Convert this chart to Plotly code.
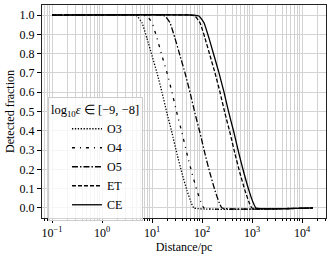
import plotly.graph_objects as go

# Distances (pc) and detected fractions
o3_d = [0.1, 4.0, 5.0, 6.3, 7.9, 10.0, 12.6, 15.8, 20.0, 25.1, 31.6, 39.8, 50.1, 60.3, 69.2, 16600]
o3_f = [1.0, 1.0, 0.995, 0.96, 0.88, 0.79, 0.70, 0.60, 0.49, 0.39, 0.28, 0.18, 0.09, 0.03, 0.0, 0.0]

o4_d = [0.1, 6.3, 7.9, 10.0, 12.6, 15.8, 20.0, 25.1, 31.6, 39.8, 50.1, 63.1, 79.4, 95.5, 109.6, 16600]
o4_f = [1.0, 1.0, 0.995, 0.96, 0.88, 0.79, 0.70, 0.60, 0.49, 0.39, 0.28, 0.18, 0.09, 0.03, 0.0, 0.0]

o5_d = [0.1, 14.5, 18.2, 22.9, 28.8, 36.3, 45.7, 57.5, 72.4, 91.2, 114.8, 144.5, 182.0, 218.8, 251.2, 16600]
o5_f = [1.0, 1.0, 0.995, 0.96, 0.88, 0.79, 0.70, 0.60, 0.49, 0.39, 0.28, 0.18, 0.09, 0.03, 0.0, 0.0]

et_d = [0.1, 57.5, 72.4, 91.2, 114.8, 144.5, 182.0, 229.1, 288.4, 363.1, 457.1, 575.4, 724.4, 871.0, 1000.0, 16600]
et_f = [1.0, 1.0, 0.995, 0.96, 0.88, 0.79, 0.70, 0.60, 0.49, 0.39, 0.28, 0.18, 0.09, 0.03, 0.0, 0.0]

ce_d = [0.1, 69.2, 87.1, 109.6, 138.0, 173.8, 218.8, 275.4, 346.7, 436.5, 549.5, 691.8, 871.0, 1047.1, 1202.3, 16600]
ce_f = [1.0, 1.0, 0.995, 0.96, 0.88, 0.79, 0.70, 0.60, 0.49, 0.39, 0.28, 0.18, 0.09, 0.03, 0.0, 0.0]

names = ["O3", "O4", "O5", "ET", "CE"]
dashes = ["1.3px,1.6px", "3px,5px,1px,5px", "6px,2px,1.5px,2px", "4px,2px", "solid"]

x_tickvals = [0.1, 1, 10, 100, 1000, 10000]
x_ticktext = ["10<sup>−1</sup>", "10<sup>0</sup>", "10<sup>1</sup>", "10<sup>2</sup>", "10<sup>3</sup>", "10<sup>4</sup>"]
x_minor = [m * 10.0 ** e for e in range(-2, 5) for m in range(2, 10)]
y_tickvals = [0.0, 0.1, 0.2, 0.3, 0.4, 0.5, 0.6, 0.7, 0.8, 0.9, 1.0]

series = [(o3_d, o3_f), (o4_d, o4_f), (o5_d, o5_f), (et_d, et_f), (ce_d, ce_f)]

fig = go.Figure()
for (d, f), n, ds in zip(series, names, dashes):
    fig.add_trace(go.Scatter(x=d, y=f, mode="lines", name=n,
                             line=dict(color="black", width=1.3, dash=ds,
                                       shape="spline", smoothing=0.4)))

font = "Liberation Serif"
grid = "#d3d3d3"
fig.update_layout(
    width=332, height=256,
    margin=dict(l=42, r=6, t=5, b=38),
    paper_bgcolor="white", plot_bgcolor="white",
    font=dict(family=font, size=12, color="black"),
    showlegend=True,
    legend=dict(
        x=0.021, y=0.568, xanchor="left", yanchor="top",
        bgcolor="rgba(255,255,255,0.8)", bordercolor="#cccccc", borderwidth=1,
        font=dict(family=font, size=12),
        indentation=18,
        title=dict(text="log<sub>10</sub><i>ε</i> ∈ [−9, −8]", font=dict(family=font, size=12.5)),
    ),
    xaxis=dict(
        type="log", range=[-1.2, 4.48], automargin=False,
        tickvals=x_tickvals, ticktext=x_ticktext,
        ticks="outside", ticklen=4, tickcolor="black",
        showgrid=True, gridcolor=grid, gridwidth=1,
        minor=dict(tickvals=x_minor, ticks="outside", ticklen=2, tickcolor="black",
                   showgrid=True, gridcolor=grid, gridwidth=1),
        showline=True, linecolor="#222", linewidth=1, mirror=True,
        zeroline=False,
        title=dict(text="Distance/pc", standoff=2, font=dict(family=font, size=12)),
        tickfont=dict(family=font, size=12),
    ),
    yaxis=dict(
        range=[-0.052, 1.052], automargin=False,
        tickvals=y_tickvals, tickformat=".1f",
        ticks="outside", ticklen=4, tickcolor="black",
        showgrid=True, gridcolor=grid, gridwidth=1,
        showline=True, linecolor="#222", linewidth=1, mirror=True,
        zeroline=False,
        title=dict(text="Detected fraction", standoff=2, font=dict(family=font, size=12)),
        tickfont=dict(family=font, size=12),
    ),
)

fig.write_html("out.html", config={"displayModeBar": False},
               post_script="document.body.style.margin='0';document.body.style.padding='0';")
